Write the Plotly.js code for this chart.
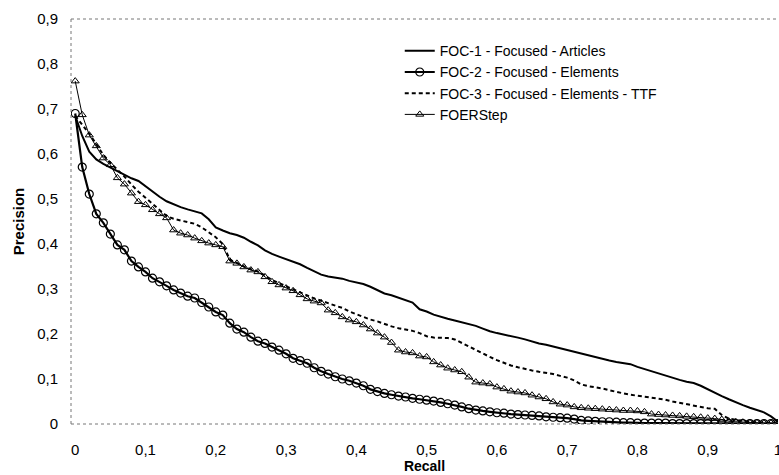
<!DOCTYPE html>
<html>
<head>
<meta charset="utf-8">
<script src="https://cdn.plot.ly/plotly-3.0.1.min.js"></script>
<style>html,body{margin:0;padding:0;background:#fff;}#chart{width:779px;height:475px;}</style>
</head>
<body>
<div id="chart"></div>
<script>
const recall = [0,0.01,0.02,0.03,0.04,0.05,0.06,0.07,0.08,0.09,
0.1,0.11,0.12,0.13,0.14,0.15,0.16,0.17,0.18,0.19,
0.2,0.21,0.22,0.23,0.24,0.25,0.26,0.27,0.28,0.29,
0.3,0.31,0.32,0.33,0.34,0.35,0.36,0.37,0.38,0.39,
0.4,0.41,0.42,0.43,0.44,0.45,0.46,0.47,0.48,0.49,
0.5,0.51,0.52,0.53,0.54,0.55,0.56,0.57,0.58,0.59,
0.6,0.61,0.62,0.63,0.64,0.65,0.66,0.67,0.68,0.69,
0.7,0.71,0.72,0.73,0.74,0.75,0.76,0.77,0.78,0.79,
0.8,0.81,0.82,0.83,0.84,0.85,0.86,0.87,0.88,0.89,
0.9,0.91,0.92,0.93,0.94,0.95,0.96,0.97,0.98,0.99,1];

const foc1 = [0.685,0.64,0.605,0.588,0.578,0.57,0.561,0.553,0.546,0.54,
0.528,0.516,0.505,0.495,0.488,0.482,0.477,0.472,0.468,0.455,
0.437,0.43,0.424,0.42,0.414,0.405,0.397,0.386,0.378,0.372,
0.366,0.36,0.355,0.347,0.339,0.332,0.328,0.325,0.323,0.318,
0.315,0.311,0.305,0.298,0.29,0.286,0.281,0.275,0.27,0.255,
0.25,0.243,0.238,0.234,0.23,0.226,0.222,0.218,0.212,0.206,
0.202,0.199,0.196,0.192,0.188,0.183,0.179,0.176,0.172,0.169,
0.165,0.161,0.157,0.153,0.149,0.145,0.141,0.138,0.135,0.133,
0.127,0.122,0.117,0.112,0.107,0.102,0.098,0.094,0.091,0.085,
0.077,0.069,0.062,0.055,0.048,0.042,0.036,0.031,0.026,0.017,0.005];

const foc2 = [0.69,0.571,0.511,0.467,0.447,0.422,0.398,0.387,0.362,0.349,
0.338,0.324,0.316,0.307,0.298,0.291,0.284,0.28,0.27,0.26,
0.249,0.242,0.224,0.211,0.204,0.193,0.184,0.179,0.171,0.164,
0.156,0.146,0.141,0.135,0.125,0.117,0.111,0.105,0.1,0.096,
0.091,0.085,0.077,0.072,0.068,0.065,0.062,0.06,0.057,0.055,
0.053,0.051,0.048,0.045,0.042,0.038,0.034,0.031,0.029,0.027,
0.025,0.024,0.022,0.021,0.02,0.019,0.018,0.016,0.015,0.014,
0.013,0.011,0.008,0.007,0.006,0.005,0.005,0.004,0.003,0.003,
0.002,0.002,0.002,0.002,0.002,0.001,0.001,0.001,0.001,0.001,
0.001,0.001,0.001,0.001,0.001,0.001,0.001,0.001,0.001,0.001,0.001];

const foc3 = [0.685,0.665,0.645,0.622,0.598,0.58,0.566,0.55,0.532,0.516,
0.503,0.49,0.475,0.462,0.456,0.452,0.449,0.445,0.437,0.425,
0.415,0.4,0.365,0.358,0.35,0.344,0.339,0.33,0.32,0.313,
0.306,0.3,0.293,0.285,0.279,0.274,0.268,0.263,0.258,0.25,
0.244,0.238,0.232,0.228,0.222,0.217,0.213,0.21,0.207,0.202,
0.195,0.192,0.191,0.191,0.188,0.18,0.173,0.165,0.157,0.149,
0.142,0.136,0.13,0.126,0.122,0.119,0.116,0.114,0.111,0.107,
0.103,0.097,0.088,0.084,0.082,0.079,0.075,0.071,0.068,0.065,
0.063,0.061,0.059,0.056,0.054,0.05,0.047,0.044,0.04,0.037,
0.035,0.034,0.02,0.012,0.009,0.007,0.005,0.004,0.003,0.002,0.001];

const foerstep = [0.762,0.687,0.642,0.618,0.591,0.576,0.547,0.533,0.513,0.494,
0.487,0.476,0.467,0.458,0.431,0.424,0.42,0.413,0.407,0.402,
0.398,0.394,0.362,0.357,0.349,0.342,0.338,0.327,0.316,0.309,
0.302,0.296,0.287,0.278,0.273,0.269,0.253,0.247,0.238,0.231,
0.227,0.22,0.211,0.202,0.193,0.181,0.164,0.16,0.158,0.151,
0.149,0.138,0.131,0.124,0.12,0.116,0.104,0.093,0.091,0.089,
0.082,0.078,0.073,0.071,0.069,0.064,0.06,0.056,0.049,0.044,
0.042,0.038,0.036,0.035,0.034,0.033,0.032,0.031,0.03,0.03,
0.029,0.027,0.022,0.021,0.02,0.019,0.018,0.017,0.016,0.015,
0.013,0.012,0.01,0.006,0.005,0.004,0.003,0.003,0.002,0.002,0.002];

const seriesNames = ['FOC-1 - Focused - Articles','FOC-2 - Focused - Elements','FOC-3 - Focused - Elements - TTF','FOERStep'];
const xTicks = [0,0.1,0.2,0.3,0.4,0.5,0.6,0.7,0.8,0.9,1];
const yTicks = [0,0.1,0.2,0.3,0.4,0.5,0.6,0.7,0.8,0.9];

const FONT = 'Liberation Sans, Arial, sans-serif';

const traces = [
  {x: recall, y: foc1, name: seriesNames[0], type: 'scatter', mode: 'lines',
   line: {color: '#000', width: 2}},
  {x: recall, y: foc2, name: seriesNames[1], type: 'scatter', mode: 'lines+markers',
   line: {color: '#000', width: 2.2},
   marker: {symbol: 'circle-open', size: 8, color: '#000', line: {width: 1.2, color: '#000'}}},
  {x: recall, y: foc3, name: seriesNames[2], type: 'scatter', mode: 'lines',
   line: {color: '#000', width: 2, dash: '4px,3px'}},
  {x: recall, y: foerstep, name: seriesNames[3], type: 'scatter', mode: 'lines+markers',
   line: {color: '#000', width: 1},
   marker: {symbol: 'triangle-up-open', size: 7, color: '#000', line: {width: 1, color: '#000'}}}
];

const layout = {
  width: 779, height: 475,
  margin: {l: 71, r: 1, t: 19, b: 51},
  paper_bgcolor: '#fff', plot_bgcolor: '#fff',
  separators: ', ',
  font: {family: FONT, size: 15, color: '#000'},
  showlegend: true,
  legend: {x: 0.465, y: 0.96, xanchor: 'left', yanchor: 'top',
           bgcolor: 'rgba(0,0,0,0)', font: {family: FONT, size: 14, color: '#000'},
           tracegroupgap: 0},
  xaxis: {range: [-0.006, 1.0], tickvals: xTicks, showgrid: false, zeroline: false,
          showline: false, ticks: 'outside', ticklen: 12, tickcolor: 'rgba(0,0,0,0)',
          ticklabeloverflow: 'allow',
          tickfont: {family: FONT, size: 15, color: '#000'},
          title: {text: 'Recall', font: {family: FONT, size: 14, color: '#000', weight: 'bold'}, standoff: 3}},
  yaxis: {range: [0, 0.9], tickvals: yTicks, showgrid: false, zeroline: false,
          showline: false, ticks: 'outside', ticklen: 9, tickcolor: 'rgba(0,0,0,0)',
          tickfont: {family: FONT, size: 15, color: '#000'},
          title: {text: 'Precision', font: {family: FONT, size: 15, color: '#000', weight: 'bold'}, standoff: 8}},
  shapes: [
    {type: 'line', xref: 'paper', yref: 'paper', x0: 0, x1: 0, y0: 0, y1: 1, line: {color: '#777', width: 1, dash: 'dot'}},
    {type: 'line', xref: 'paper', yref: 'paper', x0: 0, x1: 1, y0: 1, y1: 1, line: {color: '#777', width: 1, dash: 'dot'}},
    {type: 'line', xref: 'paper', yref: 'paper', x0: 0, x1: 1, y0: 0, y1: 0, line: {color: '#777', width: 1, dash: 'dot'}}
  ]
};

Plotly.newPlot('chart', traces, layout, {displayModeBar: false, staticPlot: true});
</script>
</body>
</html>
